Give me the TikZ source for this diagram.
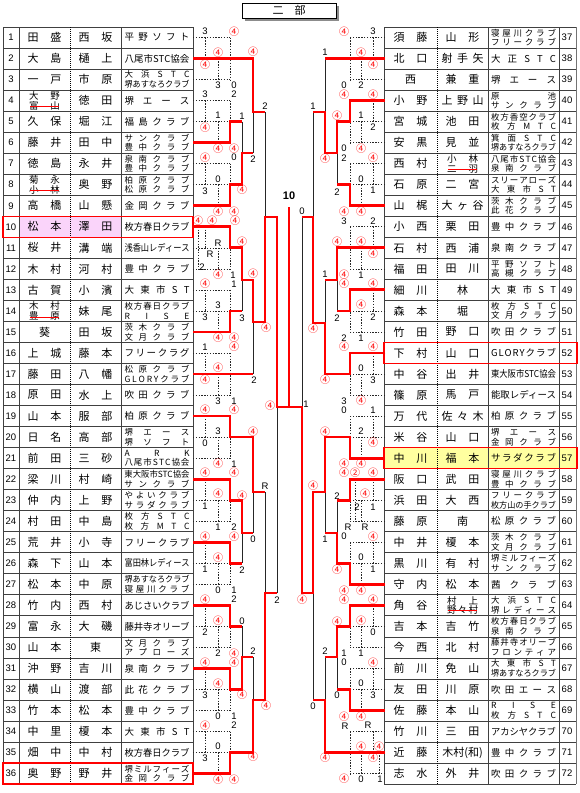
\documentclass[tikz,border=0pt]{standalone}
\usepackage{fontspec}
\usepackage{graphicx}
\setmainfont{Liberation Sans}
\newfontfamily\jp{Noto Sans CJK JP}
\def\jst#1{\jstA#1\relax}
\def\jstA#1{\ifx#1\relax\else#1\expandafter\jstB\fi}
\def\jstB#1{\ifx#1\relax\else\hfill#1\expandafter\jstB\fi}
\newcommand\fitj[2]{\sbox0{#2}\ifdim\wd0>#1\relax\resizebox{#1}{\height}{#2}\else\hbox to #1{\jst{#2}}\fi}
\newcommand\twol[2]{\vbox{\baselineskip=9.6pt\lineskiplimit=-20pt\hbox{#1}\hbox{#2}}}
\newcommand\nmA[2][34pt]{\hbox to #1{\jst{#2}}}
\newcommand\nmB[2]{{\fontsize{9.5}{10}\selectfont\twol{\nmA[31pt]{#1}}{\nmA[31pt]{#2}}}}
\newcommand\clubA[1]{{\fontsize{9.5}{10}\selectfont\fitj{65pt}{#1}}}
\newcommand\clubB[2]{{\fontsize{8.5}{9}\selectfont\twol{\fitj{65pt}{#1}}{\fitj{65pt}{#2}}}}
\newcommand\Ye[1]{16.485+21.03*(#1)}
\newcommand\Yc[1]{{\Ye{#1}}}
\newcommand\Tb[1]{{27+21.03*((#1)-1)}}
\def\fourtxt{4}
\newcommand\sco[1]{\def\tmpa{#1}\ifx\tmpa\fourtxt\textcolor{red}{\jp\fontsize{10}{10}\selectfont ④}\else#1\fi}
\newcommand\rowL[4]{%
 \node[num] (nL#1) at (11,\Yc{#1}) {#1};
 \node[nmcell] (aL#1) at (44.5,\Yc{#1}) {#2};
 \node[nmcell] (bL#1) at (95.5,\Yc{#1}) {#3};
 \node[clubcell] (cL#1) at (157,\Yc{#1}) {#4};}
\newcommand\rowR[4]{%
 \node[num] (nR#1) at (567,\Yc{#1}) {\the\numexpr#1+36\relax};
 \node[nmcell] (aR#1) at (410.5,\Yc{#1}) {#2};
 \node[nmcell] (bR#1) at (462.5,\Yc{#1}) {#3};
 \node[clubcell] (cR#1) at (523.5,\Yc{#1}) {#4};}
\newcommand\grpL[7]{%
 \pgfmathsetmacro\ya{\Ye{3*#1-2}}\pgfmathsetmacro\yb{\Ye{3*#1-1}}\pgfmathsetmacro\yc{\Ye{3*#1}}%
 \node[sc] at (205,{\ya-6}) {\sco{#2}};
 \node[sc] at (205,{\yb+6}) {\sco{#3}};
 \node[sc] at (218,{\yb-6}) {\sco{#4}};
 \node[sc] at (218,{\yc+6}) {\sco{#5}};
 \node[sc] at (234,{\ya-6}) {\sco{#6}};
 \node[sc] at (234,{\yc+6}) {\sco{#7}};}
\newcommand\grpR[7]{%
 \pgfmathsetmacro\ya{\Ye{3*#1-2}}\pgfmathsetmacro\yb{\Ye{3*#1-1}}\pgfmathsetmacro\yc{\Ye{3*#1}}%
 \node[sc] at (373,{\ya-6}) {\sco{#2}};
 \node[sc] at (373,{\yb+6}) {\sco{#3}};
 \node[sc] at (361,{\yb-6}) {\sco{#4}};
 \node[sc] at (361,{\yc+6}) {\sco{#5}};
 \node[sc] at (344,{\ya-6}) {\sco{#6}};
 \node[sc] at (344,{\yc+6}) {\sco{#7}};}
\newcommand\lab[3]{\node[sc] at (#1,#2) {\sco{#3}};}
\begin{document}
\begin{tikzpicture}[x=1pt,y=-1pt,
  redl/.style={draw=red,line width=2.8pt,line join=miter},
  thinl/.style={draw=black!85,line width=0.7pt},
  dotl/.style={draw=black!85,line width=0.6pt,dash pattern=on 1.4pt off 1.4pt},
  tline/.style={draw=black!75,line width=0.7pt},
  sc/.style={inner sep=0pt,font=\fontsize{9.5}{9.5}\selectfont},
  num/.style={inner sep=0pt,font=\fontsize{9.5}{10}\selectfont},
  nmcell/.style={inner sep=0pt,font=\jp\fontsize{11}{12}\selectfont},
  clubcell/.style={inner sep=0pt,font=\jp},
  hbox/.style={draw=red,line width=1.5pt}]
\fill[white] (0,0) rectangle (580,793);
\useasboundingbox (0,0) rectangle (580,793);
% title
\fill[black!45] (245,6) rectangle (339,21);
\node[draw=black,line width=0.8pt,fill=white,minimum width=94pt,minimum height=15pt,inner sep=0pt,font=\jp\fontsize{11}{11}\selectfont] (title) at (289,10.5) {二　部};
% highlights
\fill[fill={rgb,255:red,250;green,212;blue,250}] (19,\Tb{10}) rectangle (121,\Tb{11});
\fill[fill={rgb,255:red,255;green,255;blue,160}] (384,\Tb{21}) rectangle (576,\Tb{22});
% table grid
\foreach \i in {1,...,37} {\draw[tline] (3,\Tb{\i}) -- (193,\Tb{\i}); \draw[tline] (384,\Tb{\i}) -- (576,\Tb{\i});}
\foreach \x in {3,19,121,193,384,488,559} {\draw[tline] (\x,27) -- (\x,784.1);}
\draw[black!55,line width=1.6pt] (576.5,27) -- (576.5,784.1);
\draw[black,line width=0.6pt,dash pattern=on 1pt off 1pt] (70,27) -- (70,784.1) (437,27) -- (437,784.1);
% left rows
\rowL{1}{\nmA{田盛}}{\nmA{西坂}}{\clubA{平野ソフト}}
\rowL{2}{\nmA{大島}}{\nmA{樋上}}{\clubA{八尾市STC協会}}
\rowL{3}{\nmA{一戸}}{\nmA{市原}}{\clubB{大浜STC}{堺あすなろクラブ}}
\rowL{4}{\nmB{大野}{富山}}{\nmA{徳田}}{\clubA{堺エース}}
\rowL{5}{\nmA{久保}}{\nmA{堀江}}{\clubA{福島クラブ}}
\rowL{6}{\nmA{藤井}}{\nmA{田中}}{\clubB{サンクラブ}{豊中クラブ}}
\rowL{7}{\nmA{徳島}}{\nmA{永井}}{\clubB{泉南クラブ}{豊中クラブ}}
\rowL{8}{\nmB{菊永}{小林}}{\nmA{奥野}}{\clubB{柏原クラブ}{松原クラブ}}
\rowL{9}{\nmA{高橋}}{\nmA{山懸}}{\clubA{金岡クラブ}}
\rowL{10}{\nmA{松本}}{\nmA{澤田}}{\clubA{枚方春日クラブ}}
\rowL{11}{\nmA{桜井}}{\nmA{溝端}}{\clubA{浅香山レディース}}
\rowL{12}{\nmA{木村}}{\nmA{河村}}{\clubA{豊中クラブ}}
\rowL{13}{\nmA{古賀}}{\nmA{小濱}}{\clubA{大東市ST}}
\rowL{14}{\nmB{木村}{豊原}}{\nmA{妹尾}}{\clubB{枚方春日クラブ}{RISE}}
\rowL{15}{葵}{\nmA{田坂}}{\clubB{茨木クラブ}{文月クラブ}}
\rowL{16}{\nmA{上城}}{\nmA{藤本}}{\clubA{フリークラグ}}
\rowL{17}{\nmA{藤田}}{\nmA{八幡}}{\clubB{松原クラブ}{GLORYクラブ}}
\rowL{18}{\nmA{原田}}{\nmA{水上}}{\clubA{吹田クラブ}}
\rowL{19}{\nmA{山本}}{\nmA{服部}}{\clubA{柏原クラブ}}
\rowL{20}{\nmA{日名}}{\nmA{高部}}{\clubB{堺エース}{堺ソフト}}
\rowL{21}{\nmA{前田}}{\nmA{三砂}}{\clubB{ARK}{八尾市STC協会}}
\rowL{22}{\nmA{梁川}}{\nmA{村崎}}{\clubB{東大阪市STC協会}{サンクラブ}}
\rowL{23}{\nmA{仲内}}{\nmA{上野}}{\clubB{やよいクラブ}{サラダクラブ}}
\rowL{24}{\nmA{村田}}{\nmA{中島}}{\clubB{枚方STC}{枚方MTC}}
\rowL{25}{\nmA{荒井}}{\nmA{小寺}}{\clubA{フリークラブ}}
\rowL{26}{\nmA{森下}}{\nmA{山本}}{\clubA{富田林レディース}}
\rowL{27}{\nmA{松本}}{\nmA{中原}}{\clubB{堺あすなろクラブ}{寝屋川クラブ}}
\rowL{28}{\nmA{竹内}}{\nmA{西村}}{\clubA{あじさいクラブ}}
\rowL{29}{\nmA{富永}}{\nmA{大磯}}{\clubA{藤井寺オリーブ}}
\rowL{30}{\nmA{山本}}{東}{\clubB{文月クラブ}{アプローズ}}
\rowL{31}{\nmA{沖野}}{\nmA{吉川}}{\clubA{泉南クラブ}}
\rowL{32}{\nmA{横山}}{\nmA{渡部}}{\clubA{此花クラブ}}
\rowL{33}{\nmA{竹本}}{\nmA{松本}}{\clubA{豊中クラブ}}
\rowL{34}{\nmA{中里}}{\nmA{榎本}}{\clubA{大東市ST}}
\rowL{35}{\nmA{畑中}}{\nmA{中村}}{\clubA{枚方春日クラブ}}
\rowL{36}{\nmA{奥野}}{\nmA{野井}}{\clubB{堺ミルフィーズ}{金岡クラブ}}
% right rows
\rowR{1}{\nmA{須藤}}{\nmA{山形}}{\clubB{寝屋川クラブ}{フリークラブ}}
\rowR{2}{\nmA{北口}}{\nmA[42pt]{射手矢}}{\clubA{大正STC}}
\rowR{3}{西}{\nmA{兼重}}{\clubA{堺エース}}
\rowR{4}{\nmA{小野}}{\nmA[42pt]{上野山}}{\clubB{原池}{サンクラブ}}
\rowR{5}{\nmA{宮城}}{\nmA{池田}}{\clubB{枚方香空クラブ}{枚方MTC}}
\rowR{6}{\nmA{安黒}}{\nmA{見並}}{\clubB{箕面STC}{堺あすなろクラブ}}
\rowR{7}{\nmA{西村}}{\nmB{小林}{二羽}}{\clubB{八尾市STC協会}{泉南クラブ}}
\rowR{8}{\nmA{石原}}{\nmA{二宮}}{\clubB{スリーアローズ}{大東市ST}}
\rowR{9}{\nmA{山梶}}{\nmA[42pt]{大ヶ谷}}{\clubB{茨木クラブ}{此花クラブ}}
\rowR{10}{\nmA{小西}}{\nmA{栗田}}{\clubA{豊中クラブ}}
\rowR{11}{\nmA{石村}}{\nmA{西浦}}{\clubA{泉南クラブ}}
\rowR{12}{\nmA{福田}}{\nmA{田川}}{\clubB{平野ソフト}{高槻クラブ}}
\rowR{13}{\nmA{細川}}{林}{\clubA{大東市ST}}
\rowR{14}{\nmA{森本}}{堀}{\clubB{枚方STC}{文月クラブ}}
\rowR{15}{\nmA{竹田}}{\nmA{野口}}{\clubA{吹田クラブ}}
\rowR{16}{\nmA{下村}}{\nmA{山口}}{\clubA{GLORYクラブ}}
\rowR{17}{\nmA{中谷}}{\nmA{出井}}{\clubA{東大阪市STC協会}}
\rowR{18}{\nmA{篠原}}{\nmA{馬戸}}{\clubA{能取レディース}}
\rowR{19}{\nmA{万代}}{\nmA[42pt]{佐々木}}{\clubA{柏原クラブ}}
\rowR{20}{\nmA{米谷}}{\nmA{山口}}{\clubB{堺エース}{金岡クラブ}}
\rowR{21}{\nmA{中川}}{\nmA{福本}}{\clubA{サラダクラブ}}
\rowR{22}{\nmA{阪口}}{\nmA{武田}}{\clubB{寝屋川クラブ}{豊中クラブ}}
\rowR{23}{\nmA{浜田}}{\nmA{大西}}{\clubB{フリークラブ}{枚方山の手クラブ}}
\rowR{24}{\nmA{藤原}}{南}{\clubA{松原クラブ}}
\rowR{25}{\nmA{中井}}{\nmA{榎本}}{\clubB{茨木クラブ}{文月クラブ}}
\rowR{26}{\nmA{黒川}}{\nmA{有村}}{\clubB{堺ミルフィーズ}{サンクラブ}}
\rowR{27}{\nmA{守内}}{\nmA{松本}}{\clubA{茜クラブ}}
\rowR{28}{\nmA{角谷}}{\nmB{村上}{野々村}}{\clubB{大浜STC}{堺レディース}}
\rowR{29}{\nmA{吉本}}{\nmA{吉竹}}{\clubB{枚方春日クラブ}{泉南クラブ}}
\rowR{30}{\nmA{今西}}{\nmA{北村}}{\clubB{藤井寺オリーブ}{フロンティア}}
\rowR{31}{\nmA{前川}}{\nmA{免山}}{\clubB{大東市ST}{堺あすなろクラブ}}
\rowR{32}{\nmA{友田}}{\nmA{川原}}{\clubA{吹田エース}}
\rowR{33}{\nmA{佐藤}}{\nmA{本山}}{\clubB{RISE}{枚方STC}}
\rowR{34}{\nmA{竹川}}{\nmA{三田}}{\clubA{アカシヤクラブ}}
\rowR{35}{\nmA{近藤}}{木村(和)}{\clubA{豊中クラブ}}
\rowR{36}{\nmA{志水}}{\nmA{外井}}{\clubA{吹田クラブ}}
% strike-throughs
\draw[red,line width=0.8pt] (30,{\Ye{4}+6}) -- (59,{\Ye{4}+6});
\draw[red,line width=0.8pt] (30,{\Ye{8}+6}) -- (59,{\Ye{8}+6});
\draw[red,line width=0.8pt] (30,{\Ye{14}+6}) -- (59,{\Ye{14}+6});
\draw[red,line width=0.8pt] (448,{\Ye{7}+6}) -- (477,{\Ye{7}+6});
\draw[red,line width=0.8pt] (448,{\Ye{28}+5}) -- (477,{\Ye{28}+5});
% round-robin boxes
\foreach \g in {0,...,11}{
 \pgfmathsetmacro\ya{\Ye{3*\g+1}}\pgfmathsetmacro\yb{\Ye{3*\g+2}}\pgfmathsetmacro\yc{\Ye{3*\g+3}}
 \draw[dotl] (193,\ya)--(230,\ya) (193,\yb)--(230,\yb) (193,\yc)--(230,\yc) (205,\ya)--(205,\yb) (218,\yb)--(218,\yc) (230,\ya)--(230,\yc);
 \draw[dotl] (385,\ya)--(350,\ya) (385,\yb)--(350,\yb) (385,\yc)--(350,\yc) (373,\ya)--(373,\yb) (361,\yb)--(361,\yc) (350,\ya)--(350,\yc);
}
\draw[dotl] (198,\Yc{10}) -- (198,\Yc{12});
\draw[dotl] (355,\Yc{22}) -- (355,\Yc{24});
\draw[dotl] (379,\Yc{35}) -- (379,\Yc{36});
% left thin
\draw[thinl] (242,\Yc{5}) -- (242,153);
\draw[thinl] (253,153) -- (253,112);
\draw[thinl] (242,\Yc{14}) -- (242,280);
\draw[thinl] (253,\Yc{17}) -- (253,322);
\draw[thinl] (265,112) -- (265,217);
\draw[thinl] (242,\Yc{26}) -- (242,533);
\draw[thinl] (253,533) -- (253,492);
\draw[thinl] (242,\Yc{29}) -- (242,657);
\draw[thinl] (253,657) -- (253,700);
\draw[thinl] (265,492) -- (265,593);
\draw[thinl] (277,593) -- (277,407);
% right thin
\draw[thinl] (337,\Yc{8}) -- (337,153);
\draw[thinl] (325,\Yc{2}) -- (325,112);
\draw[thinl] (337,\Yc{14}) -- (337,280);
\draw[thinl] (325,280) -- (325,323);
\draw[thinl] (313,112) -- (313,217);
\draw[thinl] (337,\Yc{23}) -- (337,533);
\draw[thinl] (325,533) -- (325,492);
\draw[thinl] (337,\Yc{32}) -- (337,657);
\draw[thinl] (325,657) -- (325,700);
\draw[thinl] (313,700) -- (313,593);
\draw[thinl] (302,217) -- (302,407);
% left red
\draw[redl] (193,\Yc{2}) -- (253,\Yc{2}) -- (253,112) -- (265,112);
\draw[redl] (193,\Yc{6}) -- (230,\Yc{6}) -- (230,\Yc{5}) -- (242,\Yc{5});
\draw[redl] (193,\Yc{9}) -- (230,\Yc{9}) -- (230,\Yc{8}) -- (242,\Yc{8}) -- (242,153) -- (253,153);
\draw[redl] (193,\Yc{10}) -- (230,\Yc{10}) -- (230,\Yc{11}) -- (242,\Yc{11}) -- (242,280) -- (253,280) -- (253,322) -- (265,322) -- (265,217) -- (277,217) -- (277,407) -- (289,407) -- (289,207);
\draw[redl] (193,\Yc{15}) -- (230,\Yc{15}) -- (230,\Yc{14}) -- (242,\Yc{14});
\draw[redl] (193,\Yc{17}) -- (253,\Yc{17});
\draw[redl] (193,\Yc{19}) -- (230,\Yc{19}) -- (230,\Yc{20}) -- (253,\Yc{20}) -- (253,492) -- (265,492);
\draw[redl] (193,\Yc{22}) -- (230,\Yc{22}) -- (230,\Yc{23}) -- (242,\Yc{23}) -- (242,533) -- (253,533);
\draw[redl] (193,\Yc{25}) -- (230,\Yc{25}) -- (230,\Yc{26}) -- (242,\Yc{26});
\draw[redl] (193,\Yc{28}) -- (230,\Yc{28}) -- (230,\Yc{29}) -- (242,\Yc{29});
\draw[redl] (193,\Yc{31}) -- (230,\Yc{31}) -- (230,\Yc{32}) -- (242,\Yc{32}) -- (242,657) -- (253,657);
\draw[redl] (193,\Yc{36}) -- (230,\Yc{36}) -- (230,\Yc{35}) -- (253,\Yc{35}) -- (253,700) -- (265,700) -- (265,593) -- (277,593);
% right red
\draw[redl] (385,\Yc{2}) -- (325,\Yc{2});
\draw[redl] (385,\Yc{4}) -- (350,\Yc{4}) -- (350,\Yc{5}) -- (337,\Yc{5}) -- (337,153) -- (325,153) -- (325,112) -- (313,112);
\draw[redl] (385,\Yc{9}) -- (350,\Yc{9}) -- (350,\Yc{8}) -- (337,\Yc{8});
\draw[redl] (385,\Yc{11}) -- (337,\Yc{11}) -- (337,280) -- (325,280);
\draw[redl] (385,\Yc{13}) -- (350,\Yc{13}) -- (350,\Yc{14}) -- (337,\Yc{14});
\draw[redl] (385,\Yc{16}) -- (350,\Yc{16}) -- (350,\Yc{17}) -- (325,\Yc{17}) -- (325,323) -- (313,323) -- (313,217) -- (302,217);
\draw[redl] (385,\Yc{21}) -- (350,\Yc{21}) -- (350,\Yc{20}) -- (325,\Yc{20}) -- (325,492) -- (313,492) -- (313,593) -- (302,593) -- (302,407) -- (289,407);
\draw[redl] (385,\Yc{22}) -- (350,\Yc{22}) -- (350,\Yc{23}) -- (337,\Yc{23});
\draw[redl] (385,\Yc{27}) -- (350,\Yc{27}) -- (350,\Yc{26}) -- (337,\Yc{26}) -- (337,533) -- (325,533);
\draw[redl] (385,\Yc{28}) -- (350,\Yc{28}) -- (350,\Yc{29}) -- (337,\Yc{29}) -- (337,657) -- (325,657);
\draw[redl] (385,\Yc{33}) -- (350,\Yc{33}) -- (350,\Yc{32}) -- (337,\Yc{32});
\draw[redl] (385,\Yc{35}) -- (325,\Yc{35}) -- (325,700) -- (313,700);
% champion number
\node[inner sep=0pt,font=\bfseries\fontsize{11}{11}\selectfont] (champ) at (289,196) {10};
% group scores left
\grpL{1}{3}{4}{4}{3}{4}{0}
\grpL{2}{3}{4}{1}{4}{2}{4}
\grpL{3}{4}{3}{0}{4}{0}{4}
\lab{198}{221}{4}\lab{212}{221}{4}\lab{235}{221}{4}\lab{218}{243}{R}\lab{210}{254}{R}\lab{202}{267}{2}\lab{218}{275}{4}\lab{233}{275}{1}
\grpL{5}{4}{3}{3}{4}{1}{4}
\grpL{6}{1}{4}{4}{3}{4}{1}
\grpL{7}{4}{0}{3}{4}{4}{1}
\grpL{8}{4}{1}{4}{1}{4}{2}
\grpL{9}{4}{1}{4}{0}{4}{1}
\grpL{10}{4}{2}{4}{2}{2}{4}
\grpL{11}{4}{3}{4}{0}{4}{1}
\grpL{12}{4}{3}{0}{4}{2}{4}
% group scores right
\grpR{1}{3}{4}{4}{2}{4}{0}
\grpR{2}{4}{2}{1}{4}{4}{0}
\grpR{3}{4}{1}{0}{4}{2}{4}
\grpR{4}{2}{4}{4}{1}{3}{4}
\grpR{5}{4}{2}{4}{1}{4}{2}
\grpR{6}{4}{3}{0}{4}{4}{3}
\grpR{7}{1}{4}{2}{4}{0}{4}
\lab{344}{473}{4}\node[sc] at (355,473) {\textcolor{red}{\jp\fontsize{10}{10}\selectfont ②}};\lab{373}{473}{4}\lab{365}{494}{4}\lab{357}{507}{2}\lab{373}{507}{1}\lab{348}{527}{R}\lab{365}{527}{R}
\grpR{9}{4}{1}{0}{4}{0}{4}
\grpR{10}{4}{0}{4}{1}{4}{1}
\grpR{11}{4}{3}{0}{4}{0}{4}
\lab{345}{726}{R}\lab{368}{725}{R}\lab{361}{747}{4}\lab{379}{747}{4}\lab{373}{758}{4}\lab{344}{779}{4}\lab{361}{779}{0}\lab{380}{779}{1}
% knockout scores left
\lab{242}{116}{1}\lab{242}{190}{4}\lab{253}{52}{4}\lab{253}{159}{2}\lab{265}{106}{2}\lab{266}{328}{4}
\lab{242}{242}{4}\lab{242}{318}{3}\lab{253}{274}{4}\lab{254}{380}{2}
\lab{253}{432}{4}\lab{253}{539}{0}\lab{242}{496}{4}\lab{242}{570}{2}\lab{265}{486}{R}\lab{266}{706}{4}
\lab{242}{621}{0}\lab{242}{695}{4}\lab{253}{651}{2}\lab{253}{757}{4}\lab{277}{600}{2}\lab{270}{406}{4}
% knockout scores right
\lab{337}{116}{4}\lab{337}{192}{2}\lab{325}{52}{1}\lab{325}{159}{4}\lab{313}{106}{1}\lab{313}{329}{4}
\lab{337}{242}{4}\lab{337}{318}{2}\lab{325}{274}{1}\lab{325}{380}{4}\lab{302}{211}{0}\lab{302}{600}{4}
\lab{337}{496}{2}\lab{337}{570}{4}\lab{325}{432}{4}\lab{325}{539}{1}
\lab{337}{622}{4}\lab{337}{695}{0}\lab{325}{651}{2}\lab{325}{758}{4}\lab{313}{486}{4}\lab{313}{706}{0}\lab{306}{404}{1}
% red row frames
\draw[hbox] (3,\Tb{10}) rectangle (193,\Tb{11});
\draw[hbox] (3,\Tb{36}) rectangle (193,\Tb{37});
\draw[hbox] (384,\Tb{16}) rectangle (577,\Tb{17});
\draw[hbox] (384,\Tb{21}) rectangle (577,\Tb{22});
\end{tikzpicture}
\end{document}
